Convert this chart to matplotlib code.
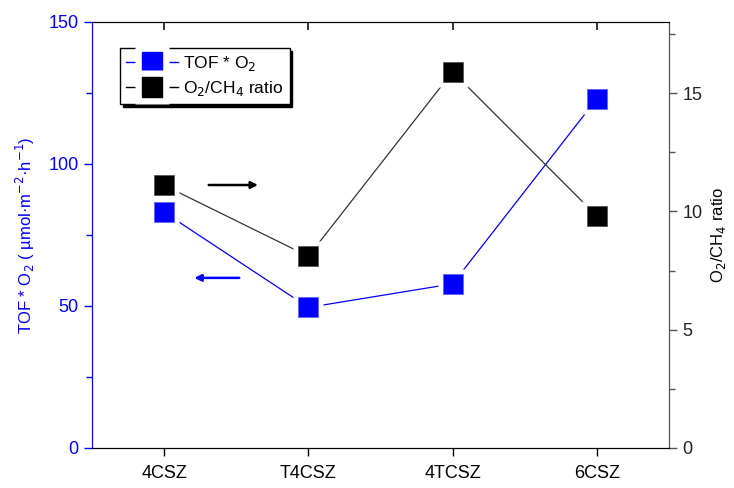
import numpy as np
import matplotlib.pyplot as plt
from matplotlib.lines import Line2D
from matplotlib.ticker import MultipleLocator

plt.rcParams['font.family'] = ['Liberation Sans', 'DejaVu Sans']

samples = ['4CSZ', 'T4CSZ', '4TCSZ', '6CSZ']
tof_o2 = [83, 49.5, 57.8, 123]        # TOF * O2, umol m-2 h-1
o2_ch4 = [11.1, 8.1, 15.9, 9.8]       # O2/CH4 ratio

BLUE = '#0000ff'
x = np.arange(len(samples))

fig = plt.figure(figsize=(7.34, 4.88), dpi=100)
ax = fig.add_axes([92/734, 1 - 448/488, 577/734, 426/488])
ax2 = ax.twinx()

ms = 15
# lines first, then white halos so the lines stop short of the squares
ax.plot(x, tof_o2, color=BLUE, lw=0.9, zorder=1)
ax2.plot(x, o2_ch4, color='#333333', lw=0.9, zorder=1)
ax.plot(x, tof_o2, ls='none', marker='s', ms=ms + 7, mfc='white', mec='none', zorder=2)
ax2.plot(x, o2_ch4, ls='none', marker='s', ms=ms + 7, mfc='white', mec='none', zorder=2)
ax.plot(x, tof_o2, ls='none', marker='s', ms=ms, mfc=BLUE, mec='#6060ff', mew=0.6, zorder=3)
ax2.plot(x, o2_ch4, ls='none', marker='s', ms=ms, mfc='black', mec='#555555', mew=0.6, zorder=3)

ax.set_xlim(-0.5, 3.5)
ax.set_ylim(0, 150)
ax2.set_ylim(0, 18)
ax.set_xticks(x)
ax.set_xticklabels(samples)
ax.yaxis.set_major_locator(MultipleLocator(50))
ax.yaxis.set_minor_locator(MultipleLocator(25))
ax2.yaxis.set_major_locator(MultipleLocator(5))
ax2.yaxis.set_minor_locator(MultipleLocator(2.5))

# axis styling
ax.spines['left'].set_color(BLUE)
ax2.spines['left'].set_color(BLUE)
ax2.spines['right'].set_color('#555555')
ax.tick_params(axis='y', which='both', colors=BLUE, labelsize=13, direction='out', width=1)
ax.tick_params(axis='y', which='major', length=6)
ax.tick_params(axis='y', which='minor', length=4)
ax.tick_params(axis='x', which='major', direction='out', length=6, width=1,
               labelsize=13, top=False, pad=6)
ax2.tick_params(axis='y', which='both', colors='#555555', labelcolor='#222222',
                labelsize=13, direction='out', width=1)
ax2.tick_params(axis='y', which='major', length=6)
ax2.tick_params(axis='y', which='minor', length=4)

# top axis: inward ticks, no labels (use the twin's hidden x axis)
ax2.xaxis.set_visible(True)
ax2.tick_params(axis='x', which='major', top=True, bottom=False,
                labeltop=False, labelbottom=False, direction='in',
                length=6, width=1.1)

ax.set_ylabel('TOF * O$_2$ ( µmol·m$^{-2}$·h$^{-1}$)', color=BLUE,
              fontsize=12, labelpad=8)
ax2.set_ylabel(r'O$_2$/CH$_4$ ratio', fontsize=12, labelpad=5)

# arrows pointing to the matching axis
ax.annotate('', xy=(0.67, 92.6), xytext=(0.29, 92.6),
            arrowprops=dict(arrowstyle='-|>', color='black', lw=1.8,
                            mutation_scale=10))
ax.annotate('', xy=(0.19, 59.9), xytext=(0.54, 59.9),
            arrowprops=dict(arrowstyle='-|>', color=BLUE, lw=1.8,
                            mutation_scale=10))

def handle(c):
    return (Line2D([], [], color=c, lw=1),
            Line2D([], [], ls='none', marker='s', ms=24, mfc='white', mec='none'),
            Line2D([], [], ls='none', marker='s', ms=14, mfc=c, mec=c))

leg = ax2.legend([handle(BLUE), handle('black')],
                 ['TOF * O$_2$', 'O$_2$/CH$_4$ ratio'],
                 loc='upper left', bbox_to_anchor=(28/577, 1 - 26/426),
                 borderaxespad=0, fontsize=12.5, fancybox=False,
                 edgecolor='black', framealpha=1, handlelength=3.0,
                 handletextpad=0.3, labelspacing=0.35, borderpad=0.35,
                 shadow={'color': 'black', 'alpha': 1})
leg.get_frame().set_linewidth(1)

fig.savefig('out.png', dpi=100)
